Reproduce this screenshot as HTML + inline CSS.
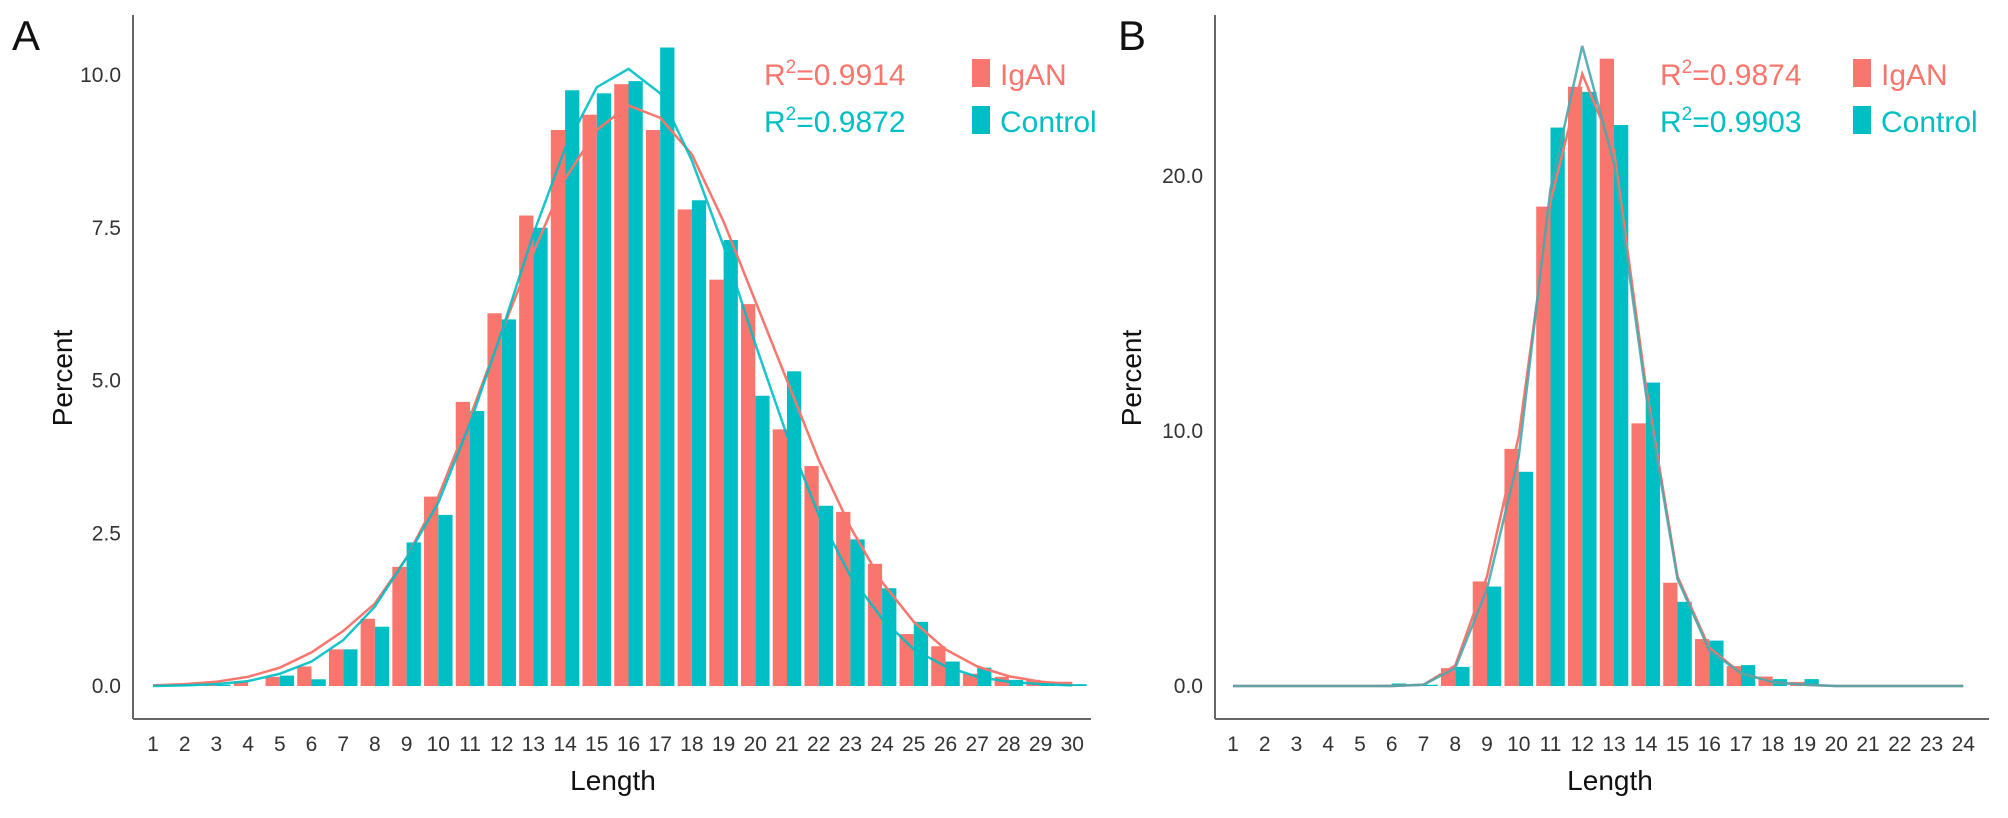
<!DOCTYPE html>
<html><head><meta charset="utf-8"><style>
html,body{margin:0;padding:0;background:#fff;}
svg{display:block;font-family:"Liberation Sans",Arial,sans-serif;}
</style></head><body>
<svg id="chart" width="2008" height="818" viewBox="0 0 2008 818" xmlns="http://www.w3.org/2000/svg"></svg>
<script>
const categoriesA = [1,2,3,4,5,6,7,8,9,10,11,12,13,14,15,16,17,18,19,20,21,22,23,24,25,26,27,28,29,30];
const igANBarsA = [0,0.01,0.02,0.07,0.15,0.32,0.6,1.1,1.95,3.1,4.65,6.1,7.7,9.1,9.35,9.85,9.1,7.8,6.65,6.25,4.2,3.6,2.85,2.0,0.85,0.65,0.2,0.15,0.1,0.07];
const controlBarsA = [0,0.01,0.02,0,0.17,0.11,0.6,0.97,2.35,2.8,4.5,6.0,7.5,9.75,9.7,9.9,10.45,7.95,7.3,4.75,5.15,2.95,2.4,1.6,1.05,0.4,0.3,0.1,0.05,0.03];
const igANFitA = [0.01,0.03,0.07,0.15,0.3,0.55,0.9,1.35,2.1,3.1,4.4,5.8,7.1,8.3,9.1,9.5,9.3,8.7,7.6,6.3,5.0,3.7,2.6,1.7,1.05,0.6,0.32,0.16,0.07,0.03];
const controlFitA = [0,0.01,0.03,0.08,0.2,0.4,0.75,1.3,2.1,3.0,4.3,5.8,7.4,8.8,9.8,10.1,9.7,8.6,7.2,5.6,4.1,2.8,1.8,1.1,0.6,0.32,0.15,0.07,0.03,0.01];
const yTicksA = [0,2.5,5,7.5,10];
const yTickLabelsA = ["0.0","2.5","5.0","7.5","10.0"];

const categoriesB = [1,2,3,4,5,6,7,8,9,10,11,12,13,14,15,16,17,18,19,20,21,22,23,24];
const igANBarsB = [0,0,0,0,0,0.05,0,0.7,4.1,9.3,18.8,23.5,24.6,10.3,4.05,1.84,0.78,0.37,0.16,0,0,0,0,0];
const controlBarsB = [0,0,0,0,0,0.1,0.05,0.75,3.9,8.4,21.9,23.3,22.0,11.9,3.3,1.78,0.82,0.27,0.27,0,0,0,0,0];
const igANFitB = [0,0,0,0,0,0,0.05,0.8,4.3,9.8,19.0,24.0,21.0,11.8,4.3,1.5,0.5,0.15,0.05,0,0,0,0,0];
const controlFitB = [0,0,0,0,0,0,0.05,0.7,3.8,9.0,19.5,25.1,20.5,11.5,4.2,1.4,0.5,0.15,0.05,0,0,0,0,0];
const yTicksB = [0,10,20];
const yTickLabelsB = ["0.0","10.0","20.0"];

const RED = "#F8766D", TEAL = "#00BFC4";
const NS = "http://www.w3.org/2000/svg";
const svg = document.getElementById('chart');
function mk(tag, attrs, parent){
  const e = document.createElementNS(NS, tag);
  for (const k in attrs) e.setAttribute(k, attrs[k]);
  (parent||svg).appendChild(e); return e;
}

function panel(cfg){
  const g = mk('g', {});
  
  
  const xs = i => cfg.x0 + i * cfg.step;
  const ys = v => cfg.zeroY - v * cfg.unit;
  const ya = mk('line', {x1:cfg.axisX, y1:15, x2:cfg.axisX, y2:cfg.axisY, stroke:'#666', 'stroke-width':2}, g);
  
  
  const xa = mk('line', {x1:cfg.axisX, y1:cfg.axisY, x2:cfg.axisRight, y2:cfg.axisY, stroke:'#666', 'stroke-width':2}, g);
  
  
  cfg.yTicks.forEach((t, i) => {
    const tx = mk('text', {x:cfg.axisX - 12, y:ys(t) + 7, 'text-anchor':'end', 'font-size':21, fill:'#333'}, g);
    tx.textContent = cfg.yLabels[i];
    
    
  });
  cfg.cats.forEach((c, i) => {
    const tx = mk('text', {x:xs(i), y:cfg.axisY + 32, 'text-anchor':'middle', 'font-size':21, fill:'#333'}, g);
    tx.textContent = c;
    
    
  });
  const bw = cfg.step * 0.45;
  cfg.cats.forEach((c, i) => {
    const v1 = cfg.bars1[i], v2 = cfg.bars2[i];
    if (v1 > 0) {
      const r = mk('rect', {x:xs(i) - bw, y:ys(v1), width:bw, height:cfg.zeroY - ys(v1), fill:RED}, g);
      
      
    }
    if (v2 > 0) {
      const r = mk('rect', {x:xs(i), y:ys(v2), width:bw, height:cfg.zeroY - ys(v2), fill:TEAL}, g);
      
      
    }
  });
  const p1 = cfg.fit1.map((v, i) => xs(i) + ',' + ys(v)).join(' ');
  const l1 = mk('polyline', {points:p1, fill:'none', stroke:RED, 'stroke-width':2.5}, g);
  
  
  const p2 = cfg.fit2.map((v, i) => xs(i) + ',' + ys(v)).join(' ');
  const l2 = mk('polyline', {points:p2, fill:'none', stroke:cfg.tealLine, 'stroke-width':2.5, 'stroke-opacity':0.9}, g);
  
  
  const yt = mk('text', {x:cfg.yTitleX, y:378, 'text-anchor':'middle', 'font-size':28, fill:'#111', transform:'rotate(-90 ' + cfg.yTitleX + ' 378)'}, g);
  yt.textContent = 'Percent';
  
  
  const xt = mk('text', {x:cfg.xTitleX, y:790, 'text-anchor':'middle', 'font-size':28, fill:'#111'}, g);
  xt.textContent = 'Length';
  
  
  const pl = mk('text', {x:cfg.letterX, y:50, 'font-size':42, fill:'#111'}, g);
  pl.textContent = cfg.letter;
  
  
  const rows = [[cfg.r1, RED, 'IgAN', 85], [cfg.r2, TEAL, 'Control', 132]];
  rows.forEach(([r, col, name, y], k) => {
    const t = mk('text', {x:cfg.rX, y:y, 'font-size':30, fill:col}, g);
    t.innerHTML = 'R<tspan dy="-12" font-size="19">2</tspan><tspan dy="12">=' + r + '</tspan>';
    
    
    const sq = mk('rect', {x:cfg.sqX, y:y - 26, width:18, height:28, fill:col}, g);
    
    
    const lt = mk('text', {x:cfg.sqX + 28, y:y, 'font-size':30, fill:col}, g);
    lt.textContent = name;
    
    
  });
}

panel({id:'panel-a', letter:'A', letterX:12, cats:categoriesA, bars1:igANBarsA, bars2:controlBarsA, fit1:igANFitA, fit2:controlFitA,
  yTicks:yTicksA, yLabels:yTickLabelsA, x0:153, step:31.7, zeroY:686, unit:61.1, axisX:133, axisY:719, axisRight:1091,
  yTitleX:72, xTitleX:613, rX:764, sqX:972, r1:'0.9914', r2:'0.9872', tealLine:TEAL});
panel({id:'panel-b', letter:'B', letterX:1118, cats:categoriesB, bars1:igANBarsB, bars2:controlBarsB, fit1:igANFitB, fit2:controlFitB,
  yTicks:yTicksB, yLabels:yTickLabelsB, x0:1233, step:31.75, zeroY:686, unit:25.5, axisX:1215, axisY:719, axisRight:1989,
  yTitleX:1141, xTitleX:1610, rX:1660, sqX:1853, r1:'0.9874', r2:'0.9903', tealLine:'#4aa9ad'});
</script>
</body></html>
